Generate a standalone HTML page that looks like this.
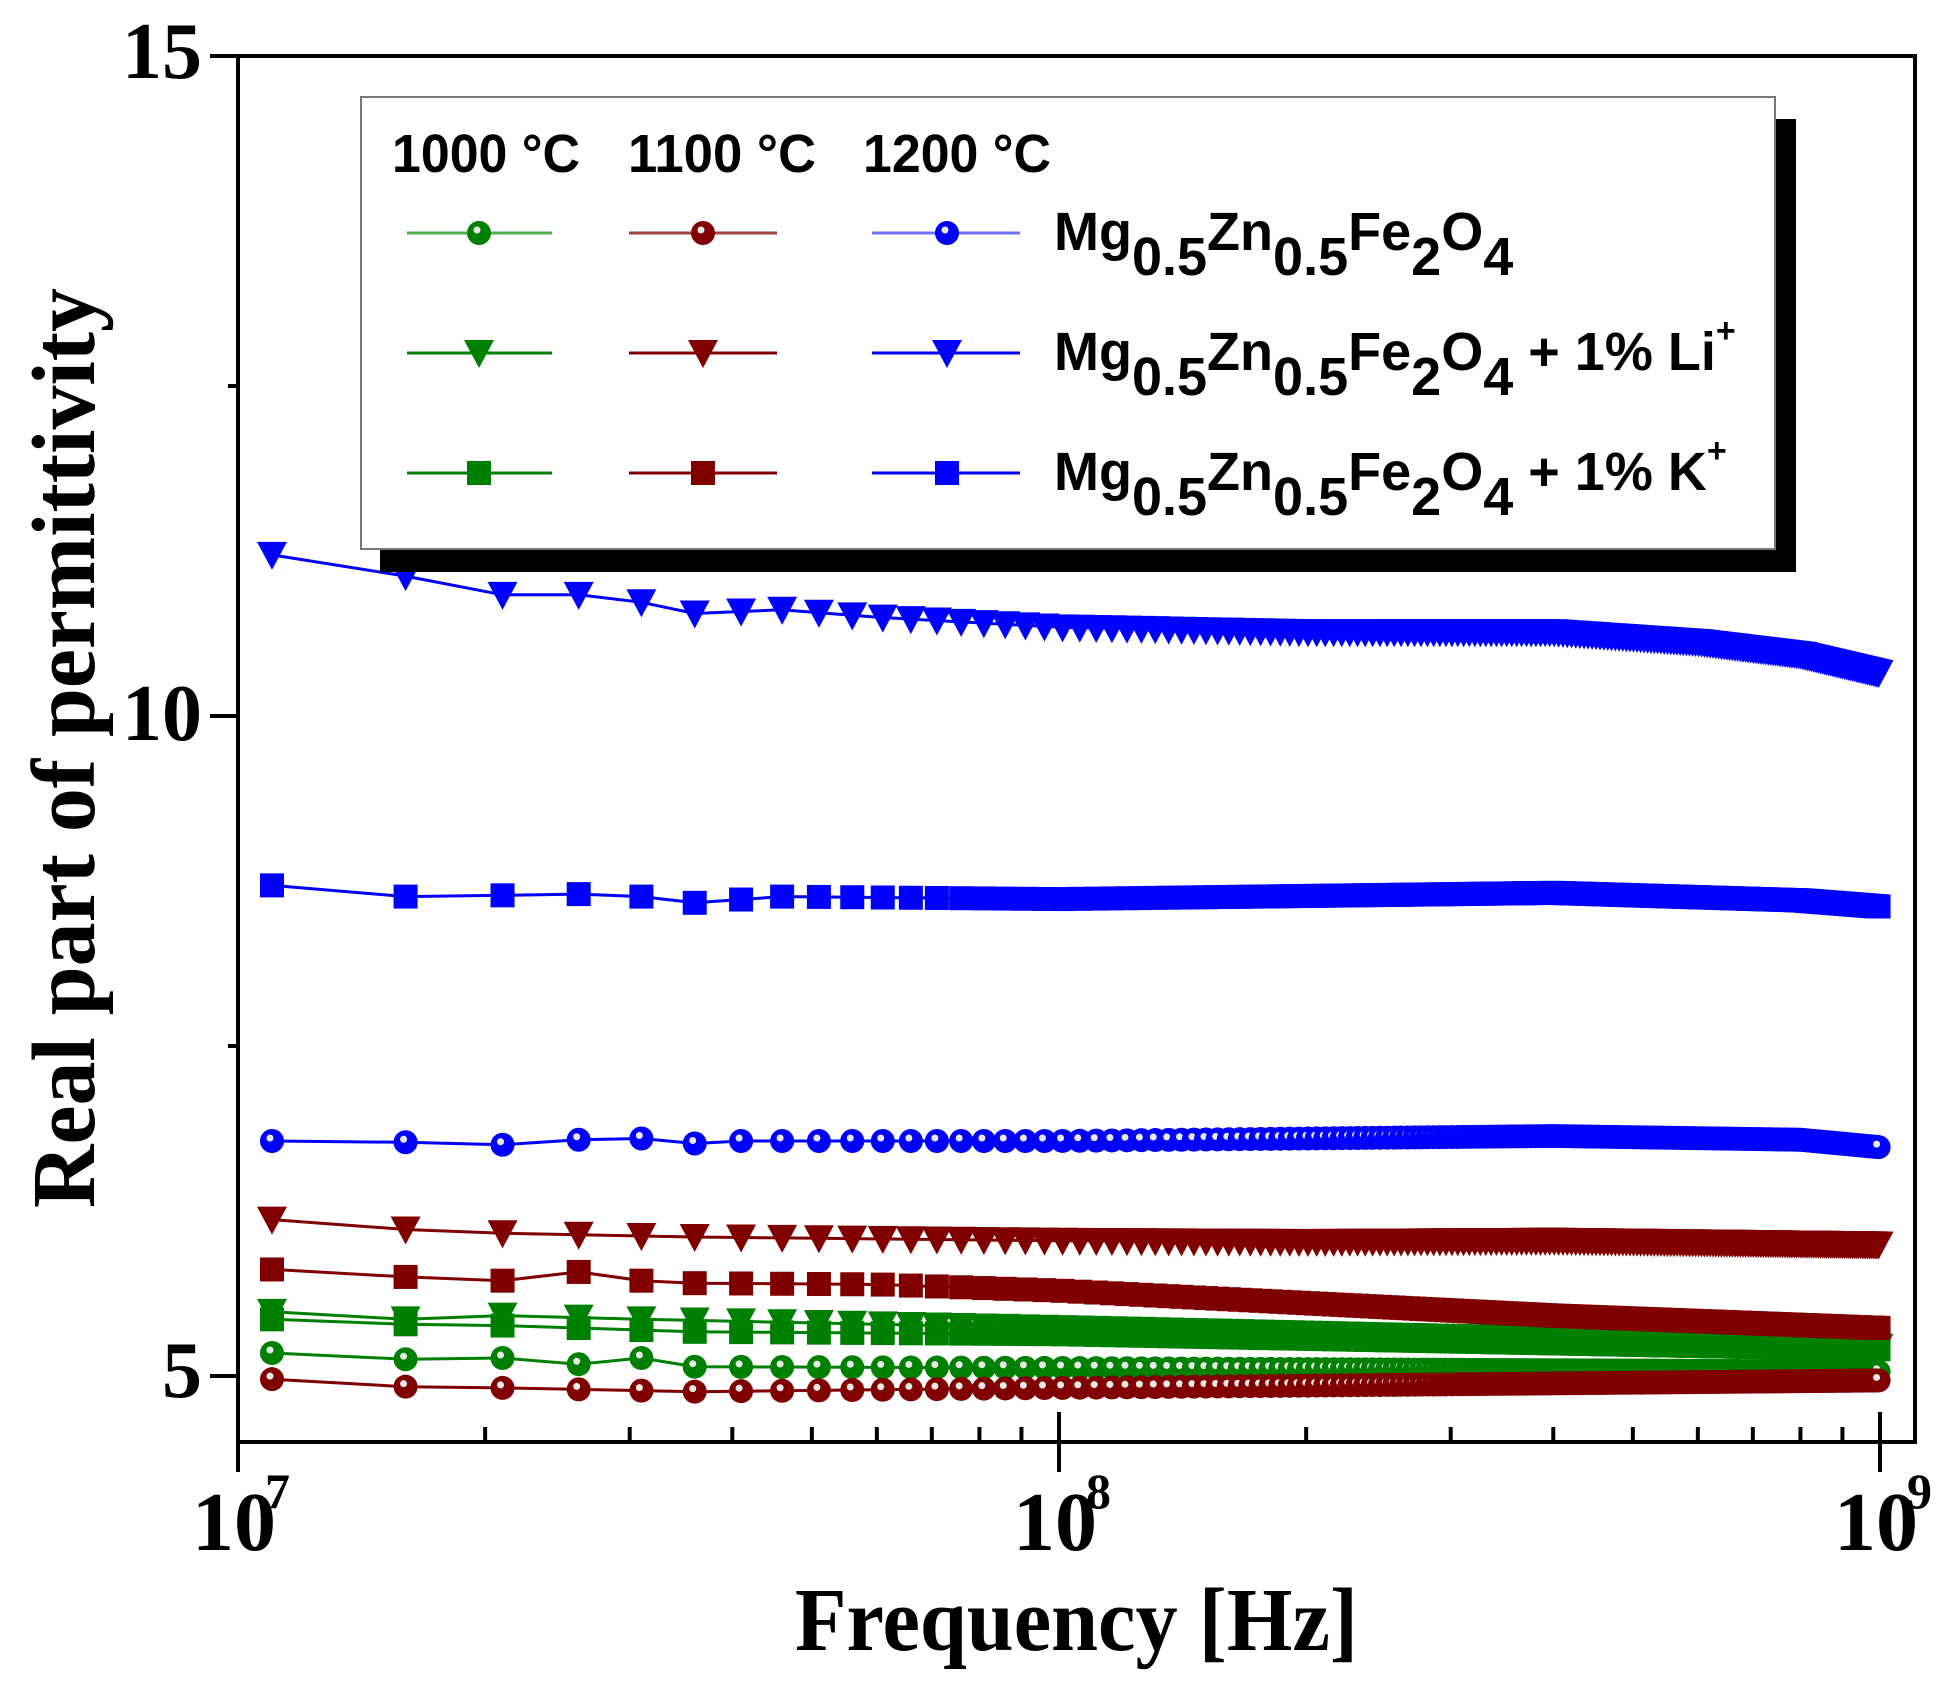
<!DOCTYPE html>
<html><head><meta charset="utf-8"><style>
html,body{margin:0;padding:0;background:#fff;}
svg{display:block;}
</style></head><body>
<svg id="s" width="1952" height="1687" viewBox="0 0 1952 1687" xmlns="http://www.w3.org/2000/svg">
<rect width="1952" height="1687" fill="#fff"/>
<g id="data"></g>
<g stroke="#000" stroke-width="4" fill="none">
<rect x="238" y="56" width="1677" height="1386"/>
<line x1="210" y1="56" x2="238" y2="56"/>
<line x1="210" y1="716" x2="238" y2="716"/>
<line x1="210" y1="1376" x2="238" y2="1376"/>
<line x1="228" y1="386" x2="238" y2="386"/>
<line x1="228" y1="1046" x2="238" y2="1046"/>
<line x1="238" y1="1412" x2="238" y2="1472"/>
<line x1="1059" y1="1412" x2="1059" y2="1472"/>
<line x1="1880" y1="1412" x2="1880" y2="1472"/>
</g>
<g id="xminor" stroke="#000" stroke-width="4"></g>
<g font-family="Liberation Serif, serif" font-weight="bold" fill="#000">
<text x="202" y="78" font-size="80" text-anchor="end">15</text>
<text x="202" y="740" font-size="80" text-anchor="end">10</text>
<text x="202" y="1397" font-size="80" text-anchor="end">5</text>
<text x="192" y="1550" font-size="84">10</text><text x="265" y="1508" font-size="50">7</text>
<text x="1013" y="1550" font-size="84">10</text><text x="1086" y="1508" font-size="50">8</text>
<text x="1834" y="1550" font-size="84">10</text><text x="1907" y="1508" font-size="50">9</text>
<text x="795" y="1650" font-size="90" textLength="563" lengthAdjust="spacingAndGlyphs">Frequency [Hz]</text>
<text transform="translate(94,1208) rotate(-90)" font-size="90" textLength="920" lengthAdjust="spacingAndGlyphs">Real part of permittivity</text>
</g>
<rect x="380" y="119" width="1416" height="453" fill="#000"/>
<rect x="361" y="97" width="1414" height="452" fill="#fff" stroke="#777" stroke-width="2"/>
<g id="leg"></g>
<g font-family="Liberation Sans, sans-serif" font-weight="bold" fill="#000" font-size="54">
<text x="392" y="172" textLength="188" lengthAdjust="spacingAndGlyphs">1000 °C</text>
<text x="628" y="172" textLength="188" lengthAdjust="spacingAndGlyphs">1100 °C</text>
<text x="863" y="172" textLength="188" lengthAdjust="spacingAndGlyphs">1200 °C</text>
<text x="1054" y="250">Mg<tspan dy="25">0.5</tspan><tspan dy="-25">Zn</tspan><tspan dy="25">0.5</tspan><tspan dy="-25">Fe</tspan><tspan dy="25">2</tspan><tspan dy="-25">O</tspan><tspan dy="25">4</tspan></text>
<text x="1054" y="370">Mg<tspan dy="25">0.5</tspan><tspan dy="-25">Zn</tspan><tspan dy="25">0.5</tspan><tspan dy="-25">Fe</tspan><tspan dy="25">2</tspan><tspan dy="-25">O</tspan><tspan dy="25">4</tspan><tspan dy="-25"> + 1% Li</tspan><tspan dy="-28" font-size="34">+</tspan></text>
<text x="1054" y="490">Mg<tspan dy="25">0.5</tspan><tspan dy="-25">Zn</tspan><tspan dy="25">0.5</tspan><tspan dy="-25">Fe</tspan><tspan dy="25">2</tspan><tspan dy="-25">O</tspan><tspan dy="25">4</tspan><tspan dy="-25"> + 1% K</tspan><tspan dy="-28" font-size="34">+</tspan></text>
</g>
</svg>
<script>
const NS="http://www.w3.org/2000/svg";
const X0=238,DEC=821;
function xp(f){return X0+(Math.log10(f)-7)*DEC;}
const S=1.247;
function mk(tag,attrs,parent){const e=document.createElementNS(NS,tag);for(const k in attrs)e.setAttribute(k,attrs[k]);parent.appendChild(e);return e;}
const xm=document.getElementById('xminor');
for(const d of [7,8])for(let m=2;m<=9;m++){const x=xp(m*Math.pow(10,d));mk('line',{x1:x,y1:1442,x2:x,y2:1427},xm);}
function interp(pts,f){const lf=Math.log10(f);
 for(let i=0;i<pts.length-1;i++){const a=Math.log10(pts[i][0]),b=Math.log10(pts[i+1][0]);
  if(lf<=b){const t=(lf-a)/(b-a);return pts[i][1]+(pts[i+1][1]-pts[i][1])*t;}}
 return pts[pts.length-1][1];}
const G='#008000',R='#800000',B='#0000ff';
const series=[
 [G,'t',[[1.1e7,1052],[1.6e7,1058],[2.1e7,1055],[3.1e7,1058],[1e8,1065],[1e9,1080]]],
 [G,'s',[[1.1e7,1058],[1.6e7,1062],[2.1e7,1063],[3.6e7,1068],[1e8,1070],[1e9,1082]]],
 [G,'c',[[1.1e7,1085],[1.6e7,1090],[2.1e7,1089],[2.6e7,1094],[3.1e7,1089],[3.6e7,1096],[1e8,1097],[1e9,1100]]],
 [R,'c',[[1.1e7,1106],[1.6e7,1112],[2.1e7,1113],[3.6e7,1116],[1e8,1113],[1e9,1107]]],
 [R,'s',[[1.1e7,1018],[1.6e7,1024],[2.1e7,1027],[2.6e7,1020],[3.1e7,1027],[3.6e7,1029],[6e7,1030],[1e8,1035],[2e8,1045],[4e8,1055],[1e9,1065]]],
 [R,'t',[[1.1e7,978],[1.6e7,986],[2.1e7,989],[3.6e7,992],[1e8,995],[2e8,996],[4e8,995],[1e9,998]]],
 [B,'c',[[1.1e7,915],[1.6e7,916],[2.1e7,918],[2.6e7,914],[3.1e7,913],[3.6e7,917],[4e7,915],[1e8,915],[2e8,913],[4e8,911],[8e8,914],[1e9,920]]],
 [B,'s',[[1.1e7,710],[1.6e7,719],[2.1e7,718],[2.6e7,717],[3.1e7,719],[3.6e7,724],[4.6e7,719],[1e8,721],[4e8,716],[8e8,722],[1e9,727]]],
 [B,'t',[[1.1e7,445],[1.6e7,462],[2.1e7,477],[2.6e7,477],[3.1e7,483],[3.6e7,492],[4.6e7,489],[6e7,495],[1e8,503],[2e8,507],[4e8,507],[6e8,515],[8e8,525],[1e9,540]]]
];
function marker(type,col,x,y,g,sz){sz=sz||1;
 if(type==='c'){mk('circle',{cx:x,cy:y,r:12*sz,fill:col},g);mk('circle',{cx:x-2*sz,cy:y-3*sz,r:3.5*sz,fill:'#e8e8e8'},g);}
 else if(type==='s'){const h=12*sz;mk('rect',{x:x-h,y:y-h,width:2*h,height:2*h,fill:col},g);}
 else {const w=15*sz;mk('polygon',{points:`${x-w},${y-13*sz} ${x+w},${y-13*sz} ${x},${y+15*sz}`,fill:col},g);}
}
const dg=document.getElementById('data');
for(const [col,type,pts] of series){
 const g=mk('g',{},dg);let d='';const xs=[];
 for(let f=1.1e7;f<=1.0001e9;f+=5e6){const x=xp(f),y=interp(pts,f)*S;xs.push([x,y]);d+=(d?'L':'M')+x.toFixed(1)+','+y.toFixed(1);}
 mk('path',{d:d,stroke:col,'stroke-width':3,fill:'none'},g);
 for(const [x,y] of xs)marker(type,col,x,y,g);
}
const lg=document.getElementById('leg');
const cols=[[G,'#4caf50',407,552,479],[R,'#a04040',629,777,703],[B,'#7070ff',872,1020,947]];
const rows=[['c',233],['t',353],['s',473]];
for(const [type,y] of rows)for(const [c,lc,x1,x2,xm2] of cols){
 mk('line',{x1:x1,y1:y,x2:x2,y2:y,stroke:type==='c'?lc:c,'stroke-width':3},lg);
 marker(type,c,xm2,y,lg);
}
</script>
</body></html>
